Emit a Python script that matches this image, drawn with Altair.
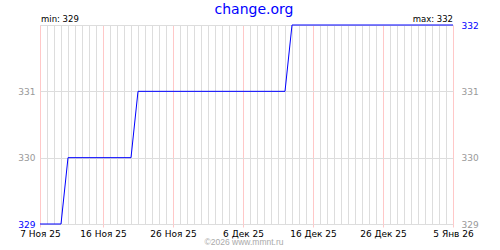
import altair as alt
import pandas as pd

# ---- data ----
dates = ["2025-11-07", "2025-11-10", "2025-11-11", "2025-11-20",
         "2025-11-21", "2025-12-12", "2025-12-13", "2026-01-05"]
values = [329, 329, 330, 330, 331, 331, 332, 332]
label_dates = ["2025-11-07", "2025-11-16", "2025-11-26", "2025-12-06",
               "2025-12-16", "2025-12-26", "2026-01-05"]
y_ticks = [329, 330, 331, 332]
title_text = "change.org"
footer_text = "\u00a92026 www.mmnt.ru"
months_ru = ["Янв", "Фев", "Мар", "Апр", "Май", "Июн",
             "Июл", "Авг", "Сен", "Окт", "Ноя", "Дек"]

df = pd.DataFrame({"date": dates, "value": values})


def ms(d):
    return int(pd.Timestamp(d, tz="UTC").value // 10**6)


start, end = ms(dates[0]), ms(dates[-1])
daily = [ms(d) for d in pd.date_range(dates[0], dates[-1], freq="D")]
label_ms = [ms(d) for d in label_dates]

FONT = "DejaVu Sans"
GRAY = "#999999"
BLUE = "#0000ff"

xscale = alt.Scale(type="utc", domain=[start, end], nice=False)
yscale = alt.Scale(domain=[min(y_ticks), max(y_ticks)], zero=False, nice=False)

month_arr = "[" + ",".join("'%s'" % m for m in months_ru) + "]"
x_label_expr = ("utcdate(datum.value) + ' ' + " + month_arr +
                "[utcmonth(datum.value)] + ' ' + utcFormat(datum.value, '%y')")

base = alt.Chart(df)

# gray daily grid + horizontal grid
grid_layer = base.mark_line(opacity=0).encode(
    x=alt.X("date:T", scale=xscale,
            axis=alt.Axis(values=daily, grid=True, gridColor="#dddddd",
                          labels=False, ticks=False, domain=False, title=None,
                          orient="bottom")),
    y=alt.Y("value:Q", scale=yscale,
            axis=alt.Axis(values=y_ticks, grid=True, gridColor="#dddddd",
                          labels=False, ticks=False, domain=False, title=None,
                          orient="left")),
)

# red grid at labelled dates + left labels
red_layer = base.mark_line(opacity=0).encode(
    x=alt.X("date:T", scale=xscale,
            axis=alt.Axis(values=label_ms, grid=True, gridColor="#ffc8c8",
                          tickColor="#ffc8c8", tickSize=3, domain=False,
                          labelExpr=x_label_expr, labelFont=FONT,
                          labelFontSize=9, labelColor="#000000",
                          labelPadding=2, labelFlush=False, title=None,
                          orient="bottom")),
    y=alt.Y("value:Q", scale=yscale,
            axis=alt.Axis(values=y_ticks[:-1], grid=False, ticks=False,
                          domain=False, title=None, orient="left",
                          labelFont=FONT, labelFontSize=9, labelPadding=5,
                          labelColor={"condition": {"test": "datum.value == %d" % min(values),
                                                    "value": BLUE},
                                      "value": GRAY})),
)

# the data line + right labels
line_layer = base.mark_line(color=BLUE, strokeWidth=1, interpolate="linear").encode(
    x=alt.X("date:T", scale=xscale, axis=None),
    y=alt.Y("value:Q", scale=yscale,
            axis=alt.Axis(values=y_ticks, grid=False, ticks=False,
                          domain=False, title=None, orient="right",
                          labelFont=FONT, labelFontSize=9, labelPadding=8,
                          labelColor={"condition": {"test": "datum.value == %d" % max(values),
                                                    "value": BLUE},
                                      "value": GRAY})),
)

title_layer = alt.Chart(pd.DataFrame({"t": [title_text]})).mark_text(
    font=FONT, fontSize=14, color=BLUE, align="center", baseline="alphabetic"
).encode(text="t:N", x=alt.value(214), y=alt.value(-11))

min_layer = alt.Chart(pd.DataFrame({"t": ["min: %d" % min(values)]})).mark_text(
    font=FONT, fontSize=8.5, color="#000000", align="left", baseline="alphabetic"
).encode(text="t:N", x=alt.value(1), y=alt.value(-3))

max_layer = alt.Chart(pd.DataFrame({"t": ["max: %d" % max(values)]})).mark_text(
    font=FONT, fontSize=8.5, color="#000000", align="right", baseline="alphabetic"
).encode(text="t:N", x=alt.value(413), y=alt.value(-3))

footer_layer = alt.Chart(pd.DataFrame({"t": [footer_text]})).mark_text(
    font="Liberation Sans", fontSize=8.5, color="#aaaaaa", align="center",
    baseline="alphabetic"
).encode(text="t:N", x=alt.value(204), y=alt.value(21 + 199))

chart = alt.layer(
    grid_layer, red_layer, line_layer,
    title_layer, min_layer, max_layer, footer_layer
).resolve_axis(x="independent", y="independent").properties(
    width=413, height=199,
    autosize=alt.AutoSizeParams(type="none"),
    padding={"left": 40, "top": 25, "right": 47, "bottom": 26},
    background="#ffffff",
).configure_view(stroke=None)

chart.save("out.html", embed_options={"renderer": "svg", "actions": False})
